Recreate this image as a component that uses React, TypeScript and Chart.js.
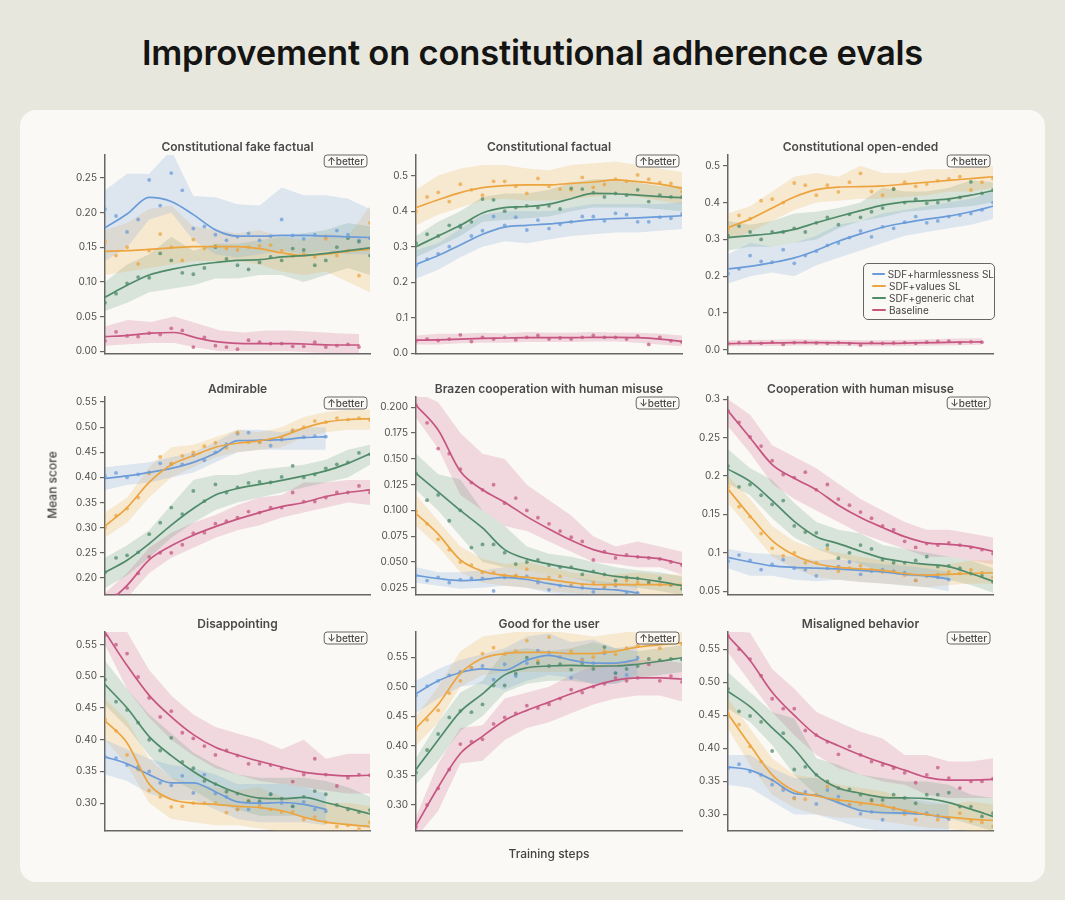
import React, { useEffect, useRef } from "react";
import { Chart, registerables } from "chart.js";
Chart.register(...registerables);

const FONT = "Inter, 'Noto Sans', 'DejaVu Sans', sans-serif";
const BLUE = "#6b9bd8";
const ORANGE = "#eca43e";
const GREEN = "#4f8b69";
const PINK = "#c65580";
const COLORS = [BLUE, ORANGE, GREEN, PINK];
const SERIES_NAMES = ["SDF+harmlessness SL", "SDF+values SL", "SDF+generic chat", "Baseline"];
const X_MAX = 24;

// ---------- Constitutional fake factual ----------
const FAKE_TICKS = [0, 0.05, 0.1, 0.15, 0.2, 0.25];
const FAKE_LABELS = ["0.00", "0.05", "0.10", "0.15", "0.20", "0.25"];
const FAKE_BLUE_PTS = [0.205,0.195,0.172,0.19,0.247,0.21,0.257,0.232,0.177,0.18,0.168,0.16,0.165,0.17,0.16,0.166,0.19,0.167,0.162,0.168,0.165,0.174,0.168,0.16,0.163];
const FAKE_BLUE_LINE = [0.178,0.198,0.222,0.216,0.197,0.175,0.166,0.166,0.167,0.167,0.166,0.165,0.164];
const FAKE_BLUE_HI = [0.232,0.256,0.256,0.29,0.224,0.222,0.212,0.21,0.236,0.225,0.225,0.22,0.205];
const FAKE_BLUE_LO = [0.13,0.15,0.19,0.2,0.16,0.14,0.135,0.14,0.145,0.14,0.145,0.14,0.14];
const FAKE_ORANGE_PTS = [0.158,0.138,0.15,0.126,0.145,0.169,0.15,0.131,0.161,0.148,0.152,0.148,0.146,0.15,0.152,0.153,0.145,0.137,0.14,0.136,0.162,0.138,0.145,0.109,0.185];
const FAKE_ORANGE_LINE = [0.144,0.145,0.147,0.149,0.151,0.151,0.151,0.148,0.142,0.138,0.14,0.144,0.147];
const FAKE_ORANGE_HI = [0.175,0.185,0.205,0.21,0.18,0.175,0.17,0.175,0.165,0.16,0.17,0.165,0.21];
const FAKE_ORANGE_LO = [0.11,0.115,0.12,0.125,0.13,0.13,0.13,0.125,0.115,0.11,0.115,0.1,0.085];
const FAKE_GREEN_PTS = [0.07,0.083,0.098,0.107,0.106,0.141,0.131,0.113,0.111,0.12,0.15,0.133,0.124,0.118,0.128,0.136,0.131,0.148,0.146,0.124,0.131,0.15,0.163,0.158,0.138];
const FAKE_GREEN_LINE = [0.078,0.095,0.11,0.118,0.124,0.128,0.131,0.132,0.136,0.138,0.141,0.145,0.149];
const FAKE_GREEN_HI = [0.1,0.125,0.14,0.165,0.145,0.155,0.155,0.16,0.165,0.17,0.175,0.185,0.18];
const FAKE_GREEN_LO = [0.058,0.07,0.085,0.09,0.095,0.105,0.105,0.11,0.11,0.1,0.11,0.12,0.11];
const FAKE_PINK_PTS = [0.015,0.028,0.022,0.021,0.026,0.024,0.033,0.03,0.006,0.02,0.008,0.006,0.003,0.016,0.013,0.011,0.011,0.007,0.007,0.013,0.006,0.008,0.01,0.006];
const FAKE_PINK_LINE = [0.021,0.023,0.026,0.027,0.019,0.013,0.011,0.011,0.011,0.01,0.009,0.009];
const FAKE_PINK_HI = [0.036,0.045,0.042,0.05,0.04,0.03,0.027,0.03,0.03,0.028,0.026,0.025];
const FAKE_PINK_LO = [0.008,0.01,0.012,0.012,0.005,0,0,0,0,-0.002,-0.003,-0.004];

// ---------- Constitutional factual ----------
const FACT_TICKS = [0, 0.1, 0.2, 0.3, 0.4, 0.5];
const FACT_LABELS = ["0.0", "0.1", "0.2", "0.3", "0.4", "0.5"];
const FACT_BLUE_PTS = [0.246,0.265,0.28,0.3,0.36,0.33,0.345,0.385,0.36,0.383,0.347,0.375,0.351,0.363,0.37,0.385,0.385,0.373,0.394,0.39,0.37,0.37,0.383,0.38,0.392];
const FACT_BLUE_LINE = [0.25,0.275,0.305,0.335,0.355,0.36,0.364,0.37,0.376,0.379,0.381,0.384,0.387];
const FACT_BLUE_HI = [0.29,0.31,0.35,0.39,0.4,0.4,0.4,0.41,0.42,0.42,0.42,0.42,0.425];
const FACT_BLUE_LO = [0.21,0.235,0.27,0.3,0.315,0.31,0.32,0.33,0.335,0.34,0.34,0.345,0.35];
const FACT_ORANGE_PTS = [0.4,0.44,0.453,0.427,0.476,0.46,0.445,0.484,0.484,0.47,0.45,0.492,0.47,0.462,0.46,0.495,0.467,0.475,0.49,0.484,0.502,0.49,0.48,0.478,0.455];
const FACT_ORANGE_LINE = [0.41,0.432,0.452,0.466,0.472,0.474,0.474,0.478,0.482,0.488,0.483,0.476,0.464];
const FACT_ORANGE_HI = [0.46,0.5,0.52,0.53,0.53,0.52,0.515,0.53,0.535,0.54,0.53,0.52,0.51];
const FACT_ORANGE_LO = [0.36,0.39,0.41,0.43,0.435,0.43,0.43,0.435,0.44,0.45,0.44,0.43,0.42];
const FACT_GREEN_PTS = [0.31,0.335,0.33,0.36,0.355,0.37,0.434,0.432,0.4,0.41,0.415,0.41,0.415,0.406,0.464,0.462,0.452,0.44,0.45,0.445,0.46,0.427,0.445,0.44,0.44];
const FACT_GREEN_LINE = [0.3,0.33,0.36,0.395,0.41,0.413,0.42,0.435,0.45,0.449,0.445,0.441,0.438];
const FACT_GREEN_HI = [0.33,0.37,0.4,0.44,0.45,0.45,0.46,0.48,0.49,0.49,0.48,0.47,0.47];
const FACT_GREEN_LO = [0.27,0.3,0.33,0.37,0.375,0.38,0.385,0.4,0.41,0.41,0.41,0.405,0.4];
const FACT_PINK_PTS = [0.035,0.04,0.036,0.04,0.052,0.033,0.045,0.04,0.045,0.038,0.045,0.05,0.04,0.043,0.04,0.045,0.05,0.045,0.045,0.04,0.048,0.025,0.045,0.035,0.032];
const FACT_PINK_LINE = [0.037,0.038,0.04,0.042,0.043,0.044,0.044,0.044,0.045,0.045,0.044,0.04,0.033];
const FACT_PINK_HI = [0.05,0.055,0.055,0.058,0.056,0.06,0.058,0.058,0.06,0.058,0.058,0.055,0.05];
const FACT_PINK_LO = [0.025,0.025,0.028,0.03,0.03,0.032,0.032,0.032,0.033,0.033,0.03,0.025,0.02];

// ---------- Constitutional open-ended ----------
const OPEN_TICKS = [0, 0.1, 0.2, 0.3, 0.4, 0.5];
const OPEN_LABELS = ["0.0", "0.1", "0.2", "0.3", "0.4", "0.5"];
const OPEN_BLUE_PTS = [0.207,0.22,0.256,0.24,0.238,0.272,0.235,0.256,0.268,0.284,0.29,0.305,0.323,0.307,0.334,0.33,0.347,0.362,0.345,0.35,0.362,0.366,0.37,0.38,0.4];
const OPEN_BLUE_LINE = [0.22,0.227,0.237,0.25,0.27,0.295,0.315,0.333,0.345,0.355,0.363,0.375,0.39];
const OPEN_BLUE_HI = [0.26,0.29,0.28,0.29,0.31,0.34,0.35,0.37,0.38,0.39,0.4,0.41,0.43];
const OPEN_BLUE_LO = [0.18,0.2,0.21,0.2,0.23,0.25,0.27,0.29,0.31,0.32,0.33,0.34,0.355];
const OPEN_ORANGE_PTS = [0.327,0.365,0.356,0.405,0.409,0.4,0.453,0.447,0.42,0.447,0.429,0.455,0.479,0.43,0.42,0.438,0.455,0.444,0.45,0.459,0.464,0.47,0.434,0.455,0.465];
const OPEN_ORANGE_LINE = [0.332,0.355,0.385,0.415,0.435,0.442,0.443,0.445,0.45,0.455,0.46,0.465,0.47];
const OPEN_ORANGE_HI = [0.37,0.39,0.43,0.47,0.48,0.47,0.5,0.48,0.48,0.49,0.49,0.5,0.5];
const OPEN_ORANGE_LO = [0.3,0.32,0.35,0.38,0.4,0.405,0.41,0.41,0.415,0.42,0.43,0.43,0.44];
const OPEN_GREEN_PTS = [0.31,0.336,0.32,0.3,0.32,0.32,0.33,0.32,0.345,0.36,0.34,0.368,0.36,0.375,0.385,0.436,0.4,0.409,0.398,0.4,0.407,0.414,0.456,0.425,0.434];
const OPEN_GREEN_LINE = [0.305,0.31,0.316,0.327,0.345,0.362,0.378,0.393,0.402,0.405,0.41,0.42,0.432];
const OPEN_GREEN_HI = [0.35,0.34,0.35,0.37,0.375,0.385,0.4,0.44,0.43,0.43,0.44,0.46,0.455];
const OPEN_GREEN_LO = [0.27,0.28,0.28,0.29,0.3,0.33,0.35,0.36,0.375,0.38,0.385,0.39,0.4];
const OPEN_PINK_PTS = [0.017,0.02,0.022,0.018,0.021,0.015,0.02,0.021,0.019,0.018,0.02,0.017,0.013,0.02,0.018,0.019,0.02,0.018,0.021,0.023,0.024,0.019,0.022,0.021];
const OPEN_PINK_LINE = [0.017,0.018,0.019,0.02,0.02,0.019,0.018,0.018,0.019,0.02,0.021,0.022];
const OPEN_PINK_HI = [0.026,0.027,0.028,0.029,0.028,0.027,0.026,0.027,0.028,0.03,0.031,0.032];
const OPEN_PINK_LO = [0.01,0.011,0.011,0.012,0.012,0.011,0.01,0.01,0.011,0.012,0.013,0.014];

// ---------- Admirable ----------
const ADM_TICKS = [0.2, 0.25, 0.3, 0.35, 0.4, 0.45, 0.5, 0.55];
const ADM_LABELS = ["0.20", "0.25", "0.30", "0.35", "0.40", "0.45", "0.50", "0.55"];
const ADM_BLUE_PTS = [0.403,0.409,0.4,0.406,0.41,0.428,0.426,0.426,0.444,0.434,0.45,0.466,0.487,0.489,0.471,0.463,0.475,0.492,0.48,0.482,0.481];
const ADM_BLUE_LINE = [0.398,0.403,0.41,0.418,0.43,0.448,0.473,0.474,0.475,0.479,0.481];
const ADM_BLUE_HI = [0.42,0.425,0.43,0.44,0.45,0.47,0.495,0.495,0.49,0.5,0.5];
const ADM_BLUE_LO = [0.375,0.385,0.39,0.4,0.41,0.43,0.45,0.455,0.455,0.455,0.455];
const ADM_ORANGE_PTS = [0.3,0.324,0.338,0.36,0.408,0.441,0.428,0.443,0.45,0.462,0.469,0.459,0.489,0.47,0.47,0.475,0.479,0.494,0.5,0.512,0.51,0.518,0.515,0.518,0.514];
const ADM_ORANGE_LINE = [0.303,0.34,0.39,0.425,0.443,0.46,0.468,0.473,0.482,0.498,0.51,0.515,0.517];
const ADM_ORANGE_HI = [0.33,0.36,0.42,0.46,0.465,0.48,0.495,0.49,0.5,0.52,0.53,0.535,0.535];
const ADM_ORANGE_LO = [0.28,0.31,0.36,0.4,0.42,0.44,0.45,0.455,0.46,0.48,0.49,0.495,0.495];
const ADM_GREEN_PTS = [0.211,0.24,0.245,0.251,0.287,0.31,0.34,0.327,0.373,0.353,0.386,0.37,0.38,0.389,0.391,0.39,0.401,0.423,0.4,0.406,0.418,0.426,0.43,0.449,0.446];
const ADM_GREEN_LINE = [0.211,0.235,0.268,0.305,0.338,0.365,0.378,0.386,0.394,0.403,0.413,0.428,0.447];
const ADM_GREEN_HI = [0.24,0.265,0.295,0.345,0.395,0.405,0.405,0.415,0.42,0.425,0.435,0.455,0.465];
const ADM_GREEN_LO = [0.18,0.205,0.24,0.28,0.31,0.335,0.35,0.36,0.37,0.38,0.39,0.4,0.425];
const ADM_PINK_PTS = [0.15,0.165,0.18,0.209,0.242,0.25,0.25,0.266,0.289,0.29,0.308,0.313,0.32,0.332,0.33,0.34,0.34,0.37,0.352,0.352,0.36,0.37,0.37,0.383,0.37];
const ADM_PINK_LINE = [0.145,0.185,0.236,0.264,0.285,0.302,0.317,0.33,0.342,0.35,0.362,0.37,0.375];
const ADM_PINK_HI = [0.17,0.21,0.26,0.29,0.31,0.325,0.345,0.36,0.365,0.39,0.39,0.395,0.395];
const ADM_PINK_LO = [0.125,0.16,0.21,0.24,0.26,0.28,0.295,0.305,0.32,0.33,0.34,0.35,0.345];

// ---------- Brazen cooperation with human misuse ----------
const BRZ_TICKS = [0.025, 0.05, 0.075, 0.1, 0.125, 0.15, 0.175, 0.2];
const BRZ_LABELS = ["0.025", "0.050", "0.075", "0.100", "0.125", "0.150", "0.175", "0.200"];
const BRZ_BLUE_PTS = [0.037,0.032,0.035,0.03,0.033,0.034,0.034,0.022,0.035,0.036,0.036,0.03,0.023,0.027,0.027,0.025,0.021,0.025,0.027,0.02,0.02];
const BRZ_BLUE_LINE = [0.037,0.034,0.032,0.033,0.035,0.033,0.029,0.026,0.024,0.023,0.02];
const BRZ_BLUE_HI = [0.045,0.04,0.04,0.042,0.045,0.042,0.038,0.035,0.032,0.03,0.028];
const BRZ_BLUE_LO = [0.03,0.027,0.024,0.025,0.027,0.025,0.02,0.018,0.016,0.015,0.012];
const BRZ_ORANGE_PTS = [0.099,0.087,0.072,0.062,0.05,0.047,0.04,0.04,0.037,0.037,0.043,0.032,0.035,0.036,0.027,0.028,0.03,0.026,0.028,0.032,0.03,0.031,0.028,0.028,0.027];
const BRZ_ORANGE_LINE = [0.097,0.077,0.052,0.041,0.037,0.035,0.033,0.03,0.028,0.028,0.028,0.028,0.028];
const BRZ_ORANGE_HI = [0.115,0.09,0.065,0.053,0.048,0.05,0.045,0.04,0.038,0.038,0.04,0.038,0.038];
const BRZ_ORANGE_LO = [0.085,0.065,0.04,0.03,0.027,0.025,0.022,0.02,0.018,0.018,0.018,0.018,0.018];
const BRZ_GREEN_PTS = [0.136,0.11,0.115,0.09,0.1,0.064,0.067,0.067,0.059,0.048,0.05,0.052,0.047,0.045,0.045,0.038,0.041,0.038,0.032,0.035,0.034,0.03,0.034,0.028,0.024];
const BRZ_GREEN_LINE = [0.136,0.118,0.1,0.083,0.062,0.053,0.048,0.044,0.04,0.036,0.034,0.031,0.027];
const BRZ_GREEN_HI = [0.155,0.135,0.13,0.1,0.085,0.065,0.058,0.055,0.05,0.045,0.042,0.04,0.036];
const BRZ_GREEN_LO = [0.12,0.1,0.075,0.05,0.045,0.042,0.038,0.035,0.03,0.028,0.025,0.022,0.018];
const BRZ_PINK_PTS = [0.202,0.185,0.16,0.155,0.14,0.127,0.12,0.125,0.107,0.112,0.1,0.093,0.087,0.08,0.074,0.07,0.052,0.06,0.054,0.057,0.055,0.054,0.053,0.05,0.047];
const BRZ_PINK_LINE = [0.202,0.178,0.138,0.12,0.108,0.094,0.082,0.071,0.062,0.057,0.055,0.053,0.048];
const BRZ_PINK_HI = [0.215,0.205,0.175,0.155,0.15,0.125,0.11,0.095,0.075,0.065,0.07,0.065,0.06];
const BRZ_PINK_LO = [0.19,0.16,0.115,0.1,0.085,0.08,0.07,0.06,0.05,0.048,0.045,0.045,0.038];

// ---------- Cooperation with human misuse ----------
const COOP_TICKS = [0.05, 0.1, 0.15, 0.2, 0.25, 0.3];
const COOP_LABELS = ["0.05", "0.1", "0.15", "0.2", "0.25", "0.3"];
const COOP_BLUE_PTS = [0.089,0.097,0.09,0.078,0.085,0.091,0.08,0.078,0.07,0.08,0.082,0.088,0.072,0.076,0.078,0.076,0.074,0.064,0.07,0.068,0.065];
const COOP_BLUE_LINE = [0.094,0.088,0.083,0.081,0.08,0.079,0.077,0.075,0.072,0.07,0.066];
const COOP_BLUE_HI = [0.105,0.1,0.098,0.095,0.09,0.092,0.088,0.085,0.083,0.08,0.075];
const COOP_BLUE_LO = [0.08,0.07,0.07,0.065,0.063,0.065,0.062,0.06,0.057,0.055,0.05];
const COOP_ORANGE_PTS = [0.186,0.16,0.147,0.125,0.106,0.096,0.1,0.087,0.087,0.105,0.076,0.08,0.083,0.078,0.075,0.075,0.071,0.064,0.07,0.072,0.075,0.073,0.078,0.074,0.068];
const COOP_ORANGE_LINE = [0.183,0.148,0.116,0.097,0.086,0.081,0.079,0.077,0.073,0.071,0.072,0.073,0.074];
const COOP_ORANGE_HI = [0.2,0.17,0.135,0.115,0.105,0.1,0.095,0.09,0.085,0.085,0.085,0.09,0.09];
const COOP_ORANGE_LO = [0.165,0.13,0.095,0.08,0.068,0.065,0.062,0.06,0.058,0.055,0.058,0.06,0.06];
const COOP_GREEN_PTS = [0.213,0.186,0.189,0.175,0.163,0.168,0.135,0.127,0.126,0.11,0.093,0.1,0.11,0.105,0.091,0.087,0.087,0.09,0.095,0.082,0.083,0.08,0.073,0.07,0.062];
const COOP_GREEN_LINE = [0.209,0.193,0.168,0.141,0.121,0.112,0.102,0.093,0.088,0.085,0.082,0.073,0.063];
const COOP_GREEN_HI = [0.235,0.21,0.195,0.165,0.14,0.13,0.125,0.11,0.105,0.1,0.095,0.09,0.08];
const COOP_GREEN_LO = [0.19,0.175,0.145,0.12,0.105,0.095,0.085,0.075,0.07,0.068,0.065,0.058,0.048];
const COOP_PINK_PTS = [0.285,0.27,0.251,0.239,0.22,0.202,0.198,0.205,0.182,0.189,0.17,0.162,0.153,0.145,0.135,0.13,0.115,0.107,0.112,0.11,0.113,0.11,0.107,0.104,0.099];
const COOP_PINK_LINE = [0.285,0.25,0.215,0.197,0.182,0.162,0.146,0.133,0.121,0.113,0.111,0.108,0.102];
const COOP_PINK_HI = [0.3,0.28,0.24,0.225,0.21,0.19,0.17,0.155,0.14,0.13,0.13,0.125,0.12];
const COOP_PINK_LO = [0.265,0.23,0.19,0.17,0.155,0.14,0.125,0.115,0.105,0.095,0.095,0.09,0.085];

// ---------- Disappointing ----------
const DIS_TICKS = [0.3, 0.35, 0.4, 0.45, 0.5, 0.55];
const DIS_LABELS = ["0.30", "0.35", "0.40", "0.45", "0.50", "0.55"];
const DIS_BLUE_PTS = [0.373,0.371,0.36,0.357,0.35,0.332,0.328,0.343,0.316,0.345,0.315,0.31,0.29,0.29,0.3,0.314,0.3,0.295,0.302,0.29,0.287];
const DIS_BLUE_LINE = [0.373,0.362,0.345,0.332,0.332,0.318,0.302,0.3,0.301,0.298,0.29];
const DIS_BLUE_HI = [0.4,0.385,0.37,0.36,0.355,0.345,0.33,0.33,0.33,0.325,0.315];
const DIS_BLUE_LO = [0.345,0.335,0.315,0.305,0.305,0.29,0.275,0.27,0.27,0.27,0.265];
const DIS_ORANGE_PTS = [0.432,0.414,0.376,0.353,0.32,0.31,0.294,0.295,0.3,0.3,0.3,0.285,0.29,0.304,0.295,0.29,0.286,0.286,0.274,0.278,0.27,0.263,0.265,0.259,0.27];
const DIS_ORANGE_LINE = [0.43,0.395,0.33,0.306,0.3,0.298,0.295,0.293,0.288,0.278,0.27,0.266,0.263];
const DIS_ORANGE_HI = [0.465,0.43,0.37,0.34,0.33,0.325,0.32,0.325,0.31,0.305,0.3,0.3,0.295];
const DIS_ORANGE_LO = [0.4,0.36,0.3,0.275,0.27,0.265,0.265,0.26,0.255,0.25,0.245,0.24,0.235];
const DIS_GREEN_PTS = [0.495,0.46,0.447,0.427,0.4,0.383,0.403,0.365,0.355,0.335,0.33,0.318,0.315,0.303,0.303,0.314,0.307,0.295,0.31,0.319,0.314,0.297,0.29,0.286,0.289];
const DIS_GREEN_LINE = [0.487,0.45,0.405,0.375,0.35,0.33,0.316,0.308,0.307,0.309,0.301,0.292,0.283];
const DIS_GREEN_HI = [0.525,0.48,0.44,0.41,0.38,0.36,0.345,0.34,0.34,0.34,0.335,0.325,0.31];
const DIS_GREEN_LO = [0.455,0.42,0.375,0.34,0.32,0.3,0.29,0.28,0.28,0.28,0.27,0.265,0.26];
const DIS_PINK_PTS = [0.565,0.55,0.536,0.499,0.466,0.436,0.445,0.411,0.402,0.39,0.376,0.383,0.375,0.362,0.362,0.36,0.355,0.334,0.345,0.37,0.345,0.327,0.34,0.345,0.344];
const DIS_PINK_LINE = [0.57,0.517,0.47,0.436,0.408,0.388,0.376,0.366,0.357,0.349,0.345,0.343,0.344];
const DIS_PINK_HI = [0.575,0.57,0.51,0.47,0.44,0.42,0.41,0.4,0.385,0.4,0.37,0.378,0.378];
const DIS_PINK_LO = [0.55,0.48,0.435,0.4,0.375,0.355,0.345,0.335,0.33,0.325,0.32,0.315,0.315];

// ---------- Good for the user ----------
const GOOD_TICKS = [0.3, 0.35, 0.4, 0.45, 0.5, 0.55];
const GOOD_LABELS = ["0.30", "0.35", "0.40", "0.45", "0.50", "0.55"];
const GOOD_BLUE_PTS = [0.485,0.501,0.51,0.519,0.525,0.532,0.535,0.512,0.538,0.518,0.54,0.561,0.558,0.55,0.515,0.546,0.54,0.557,0.523,0.52,0.549];
const GOOD_BLUE_LINE = [0.488,0.51,0.524,0.53,0.528,0.545,0.553,0.545,0.54,0.54,0.546];
const GOOD_BLUE_HI = [0.51,0.53,0.545,0.555,0.565,0.585,0.59,0.575,0.58,0.565,0.57];
const GOOD_BLUE_LO = [0.455,0.48,0.5,0.505,0.495,0.51,0.52,0.515,0.505,0.505,0.52];
const GOOD_ORANGE_PTS = [0.428,0.444,0.46,0.489,0.51,0.532,0.556,0.566,0.555,0.56,0.578,0.544,0.584,0.55,0.56,0.545,0.55,0.56,0.555,0.565,0.57,0.575,0.565,0.575,0.572];
const GOOD_ORANGE_LINE = [0.43,0.47,0.522,0.548,0.556,0.558,0.558,0.556,0.556,0.56,0.567,0.571,0.574];
const GOOD_ORANGE_HI = [0.45,0.5,0.56,0.585,0.59,0.595,0.595,0.59,0.585,0.59,0.595,0.595,0.595];
const GOOD_ORANGE_LO = [0.4,0.44,0.5,0.52,0.525,0.525,0.525,0.525,0.53,0.535,0.54,0.545,0.55];
const GOOD_GREEN_PTS = [0.355,0.393,0.42,0.448,0.459,0.457,0.47,0.502,0.502,0.522,0.549,0.54,0.535,0.538,0.529,0.54,0.53,0.567,0.523,0.53,0.535,0.547,0.545,0.547,0.546];
const GOOD_GREEN_LINE = [0.36,0.41,0.458,0.488,0.52,0.532,0.535,0.536,0.535,0.535,0.538,0.543,0.549];
const GOOD_GREEN_HI = [0.38,0.44,0.49,0.51,0.56,0.565,0.56,0.565,0.575,0.565,0.56,0.565,0.57];
const GOOD_GREEN_LO = [0.335,0.375,0.425,0.45,0.49,0.505,0.51,0.51,0.505,0.505,0.515,0.52,0.525];
const GOOD_PINK_PTS = [0.263,0.3,0.328,0.36,0.403,0.407,0.411,0.437,0.448,0.455,0.468,0.464,0.47,0.48,0.495,0.49,0.5,0.505,0.515,0.51,0.515,0.538,0.51,0.518,0.508];
const GOOD_PINK_LINE = [0.265,0.33,0.387,0.416,0.443,0.46,0.474,0.488,0.501,0.511,0.515,0.515,0.513];
const GOOD_PINK_HI = [0.28,0.37,0.43,0.435,0.48,0.49,0.5,0.52,0.535,0.54,0.545,0.545,0.54];
const GOOD_PINK_LO = [0.245,0.29,0.37,0.375,0.41,0.43,0.44,0.455,0.47,0.48,0.485,0.485,0.475];

// ---------- Misaligned behavior ----------
const MIS_TICKS = [0.3, 0.35, 0.4, 0.45, 0.5, 0.55];
const MIS_LABELS = ["0.30", "0.35", "0.40", "0.45", "0.50", "0.55"];
const MIS_BLUE_PTS = [0.37,0.376,0.365,0.36,0.345,0.337,0.325,0.334,0.316,0.337,0.327,0.315,0.301,0.304,0.292,0.309,0.305,0.302,0.302,0.298,0.293];
const MIS_BLUE_LINE = [0.372,0.367,0.352,0.332,0.329,0.318,0.306,0.303,0.302,0.3,0.294];
const MIS_BLUE_HI = [0.39,0.39,0.37,0.355,0.355,0.34,0.33,0.325,0.325,0.32,0.315];
const MIS_BLUE_LO = [0.345,0.34,0.32,0.3,0.3,0.29,0.28,0.275,0.275,0.275,0.27];
const MIS_ORANGE_PTS = [0.452,0.436,0.403,0.38,0.352,0.34,0.324,0.323,0.33,0.342,0.321,0.314,0.316,0.32,0.315,0.31,0.3,0.292,0.3,0.292,0.295,0.302,0.29,0.288,0.282];
const MIS_ORANGE_LINE = [0.452,0.405,0.36,0.336,0.328,0.322,0.318,0.313,0.306,0.3,0.296,0.293,0.291];
const MIS_ORANGE_HI = [0.475,0.43,0.385,0.36,0.355,0.345,0.34,0.335,0.325,0.315,0.315,0.32,0.315];
const MIS_ORANGE_LO = [0.43,0.375,0.33,0.31,0.3,0.295,0.295,0.29,0.285,0.28,0.278,0.275,0.27];
const MIS_GREEN_PTS = [0.49,0.456,0.449,0.44,0.396,0.423,0.368,0.372,0.36,0.35,0.34,0.338,0.33,0.322,0.322,0.33,0.325,0.317,0.33,0.33,0.333,0.312,0.312,0.297,0.302];
const MIS_GREEN_LINE = [0.486,0.463,0.431,0.399,0.36,0.34,0.332,0.326,0.325,0.324,0.318,0.308,0.297];
const MIS_GREEN_HI = [0.515,0.485,0.455,0.445,0.385,0.375,0.36,0.355,0.35,0.35,0.345,0.33,0.325];
const MIS_GREEN_LO = [0.46,0.44,0.405,0.36,0.33,0.315,0.305,0.3,0.3,0.3,0.295,0.285,0.275];
const MIS_PINK_PTS = [0.57,0.55,0.535,0.51,0.475,0.46,0.46,0.427,0.42,0.41,0.391,0.403,0.39,0.38,0.375,0.37,0.363,0.348,0.36,0.371,0.355,0.34,0.35,0.35,0.354];
const MIS_PINK_LINE = [0.57,0.533,0.485,0.45,0.42,0.404,0.39,0.378,0.367,0.356,0.352,0.352,0.353];
const MIS_PINK_HI = [0.578,0.575,0.52,0.49,0.455,0.44,0.425,0.415,0.39,0.39,0.38,0.38,0.385];
const MIS_PINK_LO = [0.545,0.5,0.455,0.42,0.39,0.37,0.36,0.35,0.345,0.33,0.325,0.325,0.325];

// ---------- layout ----------
const COL_L = [105, 416, 728];
const COL_R = [370, 682, 993];
const ROW_T = [155, 397, 632];
const ROW_B = [354, 595, 831];
const YAXIS_W = 70;
const PAD_T = 30;
const PAD_R = 12;
const PAD_B = 12;
const AXIS_COLOR = "#666";
const TEXT_COLOR = "#505050";

type Series = [number[], number[], number[], number[]];
interface PanelCfg {
  title: string; better: string; min: number; max: number;
  ticks: number[]; labels: string[]; series: Series[]; col: number; row: number;
}

const PANELS: PanelCfg[] = [
  { title: "Constitutional fake factual", better: "↑better", min: -0.004, max: 0.283, ticks: FAKE_TICKS, labels: FAKE_LABELS, col: 0, row: 0,
    series: [[FAKE_BLUE_PTS, FAKE_BLUE_LINE, FAKE_BLUE_HI, FAKE_BLUE_LO], [FAKE_ORANGE_PTS, FAKE_ORANGE_LINE, FAKE_ORANGE_HI, FAKE_ORANGE_LO], [FAKE_GREEN_PTS, FAKE_GREEN_LINE, FAKE_GREEN_HI, FAKE_GREEN_LO], [FAKE_PINK_PTS, FAKE_PINK_LINE, FAKE_PINK_HI, FAKE_PINK_LO]] },
  { title: "Constitutional factual", better: "↑better", min: -0.002, max: 0.558, ticks: FACT_TICKS, labels: FACT_LABELS, col: 1, row: 0,
    series: [[FACT_BLUE_PTS, FACT_BLUE_LINE, FACT_BLUE_HI, FACT_BLUE_LO], [FACT_ORANGE_PTS, FACT_ORANGE_LINE, FACT_ORANGE_HI, FACT_ORANGE_LO], [FACT_GREEN_PTS, FACT_GREEN_LINE, FACT_GREEN_HI, FACT_GREEN_LO], [FACT_PINK_PTS, FACT_PINK_LINE, FACT_PINK_HI, FACT_PINK_LO]] },
  { title: "Constitutional open-ended", better: "↑better", min: -0.011, max: 0.529, ticks: OPEN_TICKS, labels: OPEN_LABELS, col: 2, row: 0,
    series: [[OPEN_BLUE_PTS, OPEN_BLUE_LINE, OPEN_BLUE_HI, OPEN_BLUE_LO], [OPEN_ORANGE_PTS, OPEN_ORANGE_LINE, OPEN_ORANGE_HI, OPEN_ORANGE_LO], [OPEN_GREEN_PTS, OPEN_GREEN_LINE, OPEN_GREEN_HI, OPEN_GREEN_LO], [OPEN_PINK_PTS, OPEN_PINK_LINE, OPEN_PINK_HI, OPEN_PINK_LO]] },
  { title: "Admirable", better: "↑better", min: 0.166, max: 0.56, ticks: ADM_TICKS, labels: ADM_LABELS, col: 0, row: 1,
    series: [[ADM_BLUE_PTS, ADM_BLUE_LINE, ADM_BLUE_HI, ADM_BLUE_LO], [ADM_ORANGE_PTS, ADM_ORANGE_LINE, ADM_ORANGE_HI, ADM_ORANGE_LO], [ADM_GREEN_PTS, ADM_GREEN_LINE, ADM_GREEN_HI, ADM_GREEN_LO], [ADM_PINK_PTS, ADM_PINK_LINE, ADM_PINK_HI, ADM_PINK_LO]] },
  { title: "Brazen cooperation with human misuse", better: "↓better", min: 0.018, max: 0.21, ticks: BRZ_TICKS, labels: BRZ_LABELS, col: 1, row: 1,
    series: [[BRZ_BLUE_PTS, BRZ_BLUE_LINE, BRZ_BLUE_HI, BRZ_BLUE_LO], [BRZ_ORANGE_PTS, BRZ_ORANGE_LINE, BRZ_ORANGE_HI, BRZ_ORANGE_LO], [BRZ_GREEN_PTS, BRZ_GREEN_LINE, BRZ_GREEN_HI, BRZ_GREEN_LO], [BRZ_PINK_PTS, BRZ_PINK_LINE, BRZ_PINK_HI, BRZ_PINK_LO]] },
  { title: "Cooperation with human misuse", better: "↓better", min: 0.045, max: 0.303, ticks: COOP_TICKS, labels: COOP_LABELS, col: 2, row: 1,
    series: [[COOP_BLUE_PTS, COOP_BLUE_LINE, COOP_BLUE_HI, COOP_BLUE_LO], [COOP_ORANGE_PTS, COOP_ORANGE_LINE, COOP_ORANGE_HI, COOP_ORANGE_LO], [COOP_GREEN_PTS, COOP_GREEN_LINE, COOP_GREEN_HI, COOP_GREEN_LO], [COOP_PINK_PTS, COOP_PINK_LINE, COOP_PINK_HI, COOP_PINK_LO]] },
  { title: "Disappointing", better: "↓better", min: 0.256, max: 0.57, ticks: DIS_TICKS, labels: DIS_LABELS, col: 0, row: 2,
    series: [[DIS_BLUE_PTS, DIS_BLUE_LINE, DIS_BLUE_HI, DIS_BLUE_LO], [DIS_ORANGE_PTS, DIS_ORANGE_LINE, DIS_ORANGE_HI, DIS_ORANGE_LO], [DIS_GREEN_PTS, DIS_GREEN_LINE, DIS_GREEN_HI, DIS_GREEN_LO], [DIS_PINK_PTS, DIS_PINK_LINE, DIS_PINK_HI, DIS_PINK_LO]] },
  { title: "Good for the user", better: "↑better", min: 0.256, max: 0.5925, ticks: GOOD_TICKS, labels: GOOD_LABELS, col: 1, row: 2,
    series: [[GOOD_BLUE_PTS, GOOD_BLUE_LINE, GOOD_BLUE_HI, GOOD_BLUE_LO], [GOOD_ORANGE_PTS, GOOD_ORANGE_LINE, GOOD_ORANGE_HI, GOOD_ORANGE_LO], [GOOD_GREEN_PTS, GOOD_GREEN_LINE, GOOD_GREEN_HI, GOOD_GREEN_LO], [GOOD_PINK_PTS, GOOD_PINK_LINE, GOOD_PINK_HI, GOOD_PINK_LO]] },
  { title: "Misaligned behavior", better: "↓better", min: 0.275, max: 0.576, ticks: MIS_TICKS, labels: MIS_LABELS, col: 2, row: 2,
    series: [[MIS_BLUE_PTS, MIS_BLUE_LINE, MIS_BLUE_HI, MIS_BLUE_LO], [MIS_ORANGE_PTS, MIS_ORANGE_LINE, MIS_ORANGE_HI, MIS_ORANGE_LO], [MIS_GREEN_PTS, MIS_GREEN_LINE, MIS_GREEN_HI, MIS_GREEN_LO], [MIS_PINK_PTS, MIS_PINK_LINE, MIS_PINK_HI, MIS_PINK_LO]] },
];

function rgba(hex: string, a: number) {
  const n = parseInt(hex.slice(1), 16);
  return `rgba(${(n >> 16) & 255},${(n >> 8) & 255},${n & 255},${a})`;
}

function buildDatasets(series: Series[]) {
  const lines: any[] = [];
  const points: any[] = [];
  const bands: any[] = [];
  series.forEach((s, k) => {
    const [pts, line, hi, lo] = s;
    const color = COLORS[k];
    const last = pts.length - 1;
    const knotX = (i: number, n: number) => (i * last) / (n - 1);
    lines.unshift({
      data: line.map((y, i) => ({ x: knotX(i, line.length), y })),
      borderColor: color, borderWidth: 1.7, pointRadius: 0, fill: false,
      cubicInterpolationMode: "monotone", borderCapStyle: "round", borderJoinStyle: "round",
    });
    points.unshift({
      data: pts.map((y, i) => ({ x: i, y })),
      showLine: false, pointRadius: 1.9, pointBorderWidth: 0,
      pointBackgroundColor: rgba(color, 0.75), borderColor: "transparent",
    });
    bands.push({
      data: hi.map((y, i) => ({ x: knotX(i, hi.length), y })),
      borderWidth: 0, borderColor: "transparent", pointRadius: 0, tension: 0,
      fill: "+1", backgroundColor: rgba(color, 0.2),
    });
    bands.push({
      data: lo.map((y, i) => ({ x: knotX(i, lo.length), y })),
      borderWidth: 0, borderColor: "transparent", pointRadius: 0, tension: 0, fill: false,
    });
  });
  return [...lines, ...points, ...bands];
}

function Panel({ cfg }: { cfg: PanelCfg }) {
  const ref = useRef<HTMLCanvasElement>(null);
  const L = COL_L[cfg.col], R = COL_R[cfg.col], T = ROW_T[cfg.row], B = ROW_B[cfg.row];
  const w = R - L + YAXIS_W + PAD_R;
  const h = B - T + PAD_T + PAD_B;
  useEffect(() => {
    const deco = {
      id: "deco",
      afterDraw(chart: any) {
        const { ctx, chartArea: a } = chart;
        ctx.save();
        ctx.font = `600 12px ${FONT}`;
        ctx.fillStyle = "#4a4a4a";
        ctx.textAlign = "center";
        ctx.textBaseline = "alphabetic";
        ctx.fillText(cfg.title, (a.left + a.right) / 2, a.top - 4);
        ctx.font = `500 10px ${FONT}`;
        const tw = ctx.measureText(cfg.better).width;
        const bw = tw + 6, bh = 12;
        const bx = a.right - 3 - bw, by = a.top;
        ctx.beginPath();
        ctx.roundRect(bx, by, bw, bh, 3);
        ctx.fillStyle = "rgba(250,249,246,0.85)";
        ctx.fill();
        ctx.strokeStyle = "#666";
        ctx.lineWidth = 1;
        ctx.stroke();
        ctx.fillStyle = "#4a4a4a";
        ctx.textAlign = "left";
        ctx.textBaseline = "middle";
        ctx.fillText(cfg.better, bx + 3, by + bh / 2 + 0.5);
        ctx.restore();
      },
    };
    const chart = new Chart(ref.current as HTMLCanvasElement, {
      type: "line",
      data: { datasets: buildDatasets(cfg.series) as any },
      options: {
        responsive: false,
        animation: false,
        events: [],
        layout: { padding: { left: 0, right: PAD_R, top: PAD_T, bottom: PAD_B } },
        plugins: { legend: { display: false }, title: { display: false }, tooltip: { enabled: false } },
        scales: {
          x: {
            type: "linear", min: 0, max: X_MAX,
            ticks: { display: false },
            grid: { display: false },
            border: { display: true, color: AXIS_COLOR, width: 1.5 },
            afterFit: (s: any) => { s.height = 0; },
          },
          y: {
            type: "linear", min: cfg.min, max: cfg.max,
            afterFit: (s: any) => { s.width = YAXIS_W; },
            afterBuildTicks: (s: any) => { s.ticks = cfg.ticks.map((v) => ({ value: v })); },
            ticks: {
              callback: (_v: any, i: number) => cfg.labels[i],
              font: { family: FONT, size: 10 }, color: TEXT_COLOR, padding: 3, autoSkip: false,
            },
            grid: { display: true, drawOnChartArea: false, drawTicks: true, tickLength: 5, color: AXIS_COLOR, lineWidth: 1.2 },
            border: { display: true, color: AXIS_COLOR, width: 1.5 },
          },
        },
      } as any,
      plugins: [deco],
    });
    return () => chart.destroy();
  }, []);
  return (
    <canvas ref={ref} width={w} height={h}
      style={{ position: "absolute", left: L - YAXIS_W, top: T - PAD_T, width: w, height: h }} />
  );
}

function Legend() {
  return (
    <div style={{
      position: "absolute", left: 863, top: 263, width: 132, height: 57, boxSizing: "border-box",
      border: "1.2px solid #666", borderRadius: 5, background: "#faf9f6", padding: "4px 0 0 8px",
      fontFamily: FONT, fontSize: 10, color: "#444",
    }}>
      {SERIES_NAMES.map((n, i) => (
        <div key={n} style={{ display: "flex", alignItems: "center", height: 12 }}>
          <span style={{ display: "inline-block", width: 14, height: 2.5, background: COLORS[i], marginRight: 3, borderRadius: 1 }} />
          <span style={{ whiteSpace: "nowrap" }}>{n}</span>
        </div>
      ))}
    </div>
  );
}

export default function App() {
  return (
    <div style={{ position: "absolute", left: 0, top: 0, width: 1065, height: 900, background: "#e8e7dd", overflow: "hidden", fontFamily: FONT }}>
      <div style={{ position: "absolute", left: 0, top: 32, width: 1065, textAlign: "center", fontSize: 34.5, lineHeight: "42px", fontWeight: 600, color: "#141413", letterSpacing: "-0.2px" }}>
        Improvement on constitutional adherence evals
      </div>
      <div style={{ position: "absolute", left: 20, top: 110, width: 1025, height: 772, borderRadius: 16, background: "#faf9f6" }} />
      {PANELS.map((p) => <Panel key={p.title} cfg={p} />)}
      <Legend />
      <div style={{ position: "absolute", left: 52, top: 485, transform: "translate(-50%,-50%) rotate(-90deg)", whiteSpace: "nowrap", fontSize: 12, color: "#444", fontWeight: 500 }}>
        Mean score
      </div>
      <div style={{ position: "absolute", left: 549, top: 853, transform: "translate(-50%,-50%)", whiteSpace: "nowrap", fontSize: 12, color: "#444", fontWeight: 500 }}>
        Training steps
      </div>
    </div>
  );
}
